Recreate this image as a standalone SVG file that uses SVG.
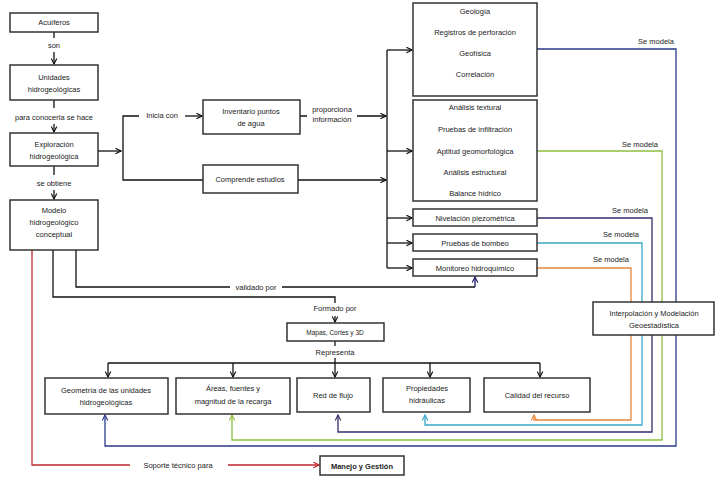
<svg xmlns="http://www.w3.org/2000/svg" width="721" height="488" viewBox="0 0 721 488">
<style>
.b{fill:#fff;stroke:#333;stroke-width:1.5}
text{font-family:"Liberation Sans",Arial,sans-serif;font-size:7.5px;fill:#222;text-anchor:middle}
.c{fill:none;stroke:#111;stroke-width:1.3}
</style>
<defs>
<marker id="a" viewBox="0 0 10 10" refX="9" refY="5" markerWidth="7" markerHeight="7" orient="auto" markerUnits="userSpaceOnUse"><path d="M1,1 L9,5 L1,9" fill="none" stroke="context-stroke" stroke-width="1.6"/></marker>
</defs>
<rect width="721" height="488" fill="#fff"/>
<g id="connectors">
<path class="c" d="M54,32V38M54,52V64" marker-end="url(#a)"/>
<path class="c" d="M54,100V108M54,124V132" marker-end="url(#a)"/>
<path class="c" d="M54,166V175M54,190V199" marker-end="url(#a)"/>
<path class="c" d="M98,151H121" marker-end="url(#a)"/>
<path class="c" d="M139,116H123V180H203"/>
<path class="c" d="M185,116H202" marker-end="url(#a)"/>
<path class="c" d="M300,116H307M357,116H386" marker-end="url(#a)"/>
<path class="c" d="M298,180H386" marker-end="url(#a)"/>
<path class="c" d="M387,50V268"/>
<path class="c" d="M387,50H412" marker-end="url(#a)"/>
<path class="c" d="M387,151H412" marker-end="url(#a)"/>
<path class="c" d="M387,218H412" marker-end="url(#a)"/>
<path class="c" d="M387,243H412" marker-end="url(#a)"/>
<path class="c" d="M387,268H412" marker-end="url(#a)"/>
<path class="c" d="M76,250V287H230M282,287H475"/>
<path class="c" d="M475,287V277" style="stroke:#1a1a6a" marker-end="url(#a)"/>
<path class="c" d="M53,250V297H335V303M335,316V322" marker-end="url(#a)"/>
<path class="c" d="M335,341V346"/>
<path class="c" d="M108,363H540"/>
<path class="c" d="M108,363V377" marker-end="url(#a)"/>
<path class="c" d="M233,363V377" marker-end="url(#a)"/>
<path class="c" d="M335,358V377" marker-end="url(#a)"/>
<path class="c" d="M430,363V377" marker-end="url(#a)"/>
<path class="c" d="M540,363V377" marker-end="url(#a)"/>
<path class="c" d="M32,250V465H130M228,465H319" style="stroke:#c0272d" marker-end="url(#a)"/>
<path class="c" d="M537,49H676V446H105V415" style="stroke:#2a3a8a" marker-end="url(#a)"/>
<path class="c" d="M537,151H662V440H232V415" style="stroke:#8cbf3f" marker-end="url(#a)"/>
<path class="c" d="M537,218H652V432H338V415" style="stroke:#3a2a6a" marker-end="url(#a)"/>
<path class="c" d="M537,243H642V425H425V415" style="stroke:#3aa8c8" marker-end="url(#a)"/>
<path class="c" d="M537,268H631V420H534V415" style="stroke:#e8873a" marker-end="url(#a)"/>
</g>
<g id="labels">
<text x="54" y="48">son</text>
<text x="54" y="120">para conocerla se hace</text>
<text x="54" y="186">se obtiene</text>
<text x="162" y="118">Inicia con</text>
<text x="332" y="112">proporciona</text>
<text x="332" y="122">información</text>
<text x="256" y="290">validado por</text>
<text x="335" y="311">Formado por</text>
<text x="335" y="355">Representa</text>
<text x="178" y="468">Soporte técnico para</text>
<text x="656" y="44">Se modela</text>
<text x="640" y="147">Se modela</text>
<text x="630" y="213">Se modela</text>
<text x="621" y="237">Se modela</text>
<text x="611" y="262">Se modela</text>
</g>
<g id="n1"><rect class="b" x="10" y="13" width="88" height="19"/><text x="54" y="25">Acuíferos</text></g>
<g id="n2"><rect class="b" x="10" y="65" width="88" height="35"/><text x="54" y="80">Unidades</text><text x="54" y="92">hidrogeológicas</text></g>
<g id="n3"><rect class="b" x="10" y="133" width="88" height="33"/><text x="54" y="147">Exploración</text><text x="54" y="159">hidrogeológica</text></g>
<g id="n4"><rect class="b" x="10" y="200" width="88" height="50"/><text x="54" y="213">Modelo</text><text x="54" y="225">hidrogeológico</text><text x="54" y="237">conceptual</text></g>
<g id="n5"><rect class="b" x="203" y="100" width="97" height="34"/><text x="251" y="114">Inventario puntos</text><text x="251" y="126">de agua</text></g>
<g id="n6"><rect class="b" x="203" y="165" width="95" height="28"/><text x="250" y="182">Comprende estudios</text></g>
<g id="n7"><rect class="b" x="413" y="3" width="124" height="93"/><text x="475" y="14">Geología</text><text x="475" y="35">Registros de perforación</text><text x="475" y="56">Geofísica</text><text x="475" y="77">Correlación</text></g>
<g id="n8"><rect class="b" x="413" y="100" width="124" height="101"/><text x="475" y="110">Análisis textural</text><text x="475" y="132">Pruebas de infiltración</text><text x="475" y="154">Aptitud geomorfológica</text><text x="475" y="175">Análisis estructural</text><text x="475" y="196">Balance hídrico</text></g>
<g id="n9"><rect class="b" x="413" y="209" width="124" height="17"/><text x="475" y="221">Nivelación piezométrica</text></g>
<g id="n10"><rect class="b" x="413" y="234" width="124" height="17"/><text x="475" y="246">Pruebas de bombeo</text></g>
<g id="n11"><rect class="b" x="413" y="259" width="124" height="17"/><text x="475" y="271">Monitoreo hidroquímico</text></g>
<g id="n12"><rect class="b" x="593" y="302" width="121" height="33"/><text x="654" y="316">Interpolación y Modelación</text><text x="654" y="328">Geoestadística</text></g>
<g id="n13"><rect class="b" x="287" y="323" width="97" height="18"/><text x="335" y="335" style="font-size:6.5px">Mapas, Cortes y 3D</text></g>
<g id="n14"><rect class="b" x="45" y="378" width="123" height="36"/><text x="106" y="393">Geometría de las unidades</text><text x="106" y="405">hidrogeológicas</text></g>
<g id="n15"><rect class="b" x="176" y="378" width="114" height="36"/><text x="233" y="391">Áreas, fuentes y</text><text x="233" y="404">magnitud de la recarga</text></g>
<g id="n16"><rect class="b" x="297" y="378" width="73" height="34"/><text x="333" y="398">Red de flujo</text></g>
<g id="n17"><rect class="b" x="383" y="378" width="87" height="34"/><text x="427" y="391">Propiedades</text><text x="427" y="403">hidráulicas</text></g>
<g id="n18"><rect class="b" x="484" y="378" width="106" height="34"/><text x="537" y="398">Calidad del recurso</text></g>
<g id="n19"><rect class="b" x="320" y="456" width="84" height="19"/><text x="362" y="469" style="font-weight:bold">Manejo y Gestión</text></g>
</svg>
